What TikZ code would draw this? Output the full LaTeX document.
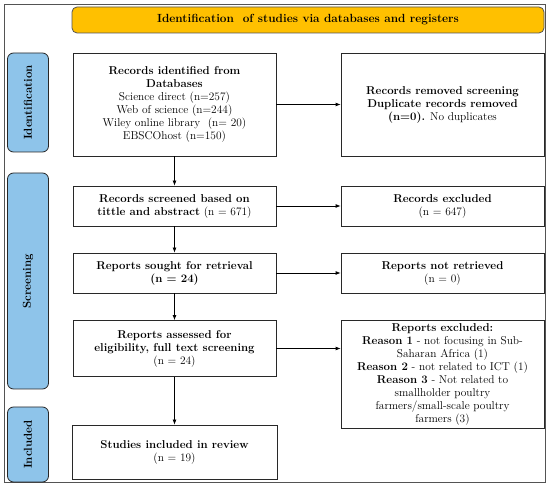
\documentclass[tikz,border=0pt]{standalone}
\usetikzlibrary{arrows.meta,positioning}
\definecolor{bannerY}{RGB}{255,192,0}
\definecolor{sideB}{RGB}{142,196,234}
\definecolor{edge}{RGB}{40,40,40}
\begin{document}
\begin{tikzpicture}[x=1pt,y=-1pt,
  box/.style={draw=edge,line width=0.8pt,fill=white,align=center,inner sep=2pt,
    font=\fontsize{11.4}{13}\selectfont},
  sidebar/.style={draw=edge,line width=0.8pt,fill=sideB,rounded corners=6pt,
    minimum width=41pt,inner sep=0pt},
  sidelabel/.style={rotate=90,font=\fontsize{11.5}{13}\selectfont\bfseries},
  arr/.style={-{Latex[length=5pt,width=4pt]},line width=0.8pt,draw=black}]
\useasboundingbox (0,0) rectangle (550,489);
% outer frame
\draw[draw=edge!80,line width=1pt] (4.5,5) rectangle (545,482.5);
% banner
\node[draw=edge!80,line width=0.8pt,fill=bannerY,rounded corners=5pt,
  minimum width=472pt,minimum height=26pt,inner sep=0pt,
  font=\fontsize{11.8}{13}\selectfont\bfseries] (banner) at (308,20)
  {Identification\ \ of studies via databases and registers};
% side bars
\node[sidebar,minimum height=99pt] (sid) at (28,102.5) {};
\node[sidelabel] (sidl) at (sid.center) {Identification};
\node[sidebar,minimum height=216pt] (sscr) at (28,281) {};
\node[sidelabel] (sscrl) at (sscr.center) {Screening};
\node[sidebar,minimum height=75pt] (sinc) at (28,444.5) {};
\node[sidelabel] (sincl) at (sinc.center) {Included};
% left boxes
\node[box,minimum width=203pt,minimum height=103pt] (b1) at (174.5,104.5)
  {\textbf{Records identified from}\\\textbf{Databases}\\Science direct (n=257)\\Web of science (n=244)\\Wiley online library\ \ (n= 20)\\EBSCOhost (n=150)};
\node[box,minimum width=203pt,minimum height=40pt] (b2) at (174.5,206)
  {\textbf{Records screened based on}\\\textbf{tittle and abstract} (n = 671)};
\node[box,minimum width=203pt,minimum height=40pt] (b3) at (174.5,273)
  {\textbf{Reports sought for retrieval}\\\textbf{(n = 24)}};
\node[box,minimum width=203pt,minimum height=56pt] (b4) at (174.5,348.5)
  {\textbf{Reports assessed for}\\\textbf{eligibility, full text screening}\\(n = 24)};
\node[box,minimum width=205pt,minimum height=54pt] (b5) at (174.5,452)
  {\textbf{Studies included in review}\\(n = 19)};
% right boxes
\node[box,minimum width=203pt,minimum height=103pt] (r1) at (442.5,104.5)
  {\textbf{Records removed screening}\\\textbf{Duplicate records removed}\\\textbf{(n=0).} No duplicates};
\node[box,minimum width=203pt,minimum height=40pt] (r2) at (442.5,206)
  {\textbf{Records excluded}\\(n = 647)};
\node[box,minimum width=203pt,minimum height=40pt] (r3) at (442.5,273)
  {\textbf{Reports not retrieved}\\(n = 0)};
\node[box,minimum width=203pt,minimum height=108pt] (r4) at (442.5,374)
  {\textbf{Reports excluded:}\\\textbf{Reason 1} - not focusing in Sub-\\Saharan Africa (1)\\\textbf{Reason 2} - not related to ICT (1)\\\textbf{Reason 3} - Not related to\\smallholder poultry\\farmers/small-scale poultry\\farmers (3)};
% arrows
\draw[arr] (b1) -- (r1);
\draw[arr] (b2) -- (r2);
\draw[arr] (b3) -- (r3);
\draw[arr] (b4) -- (b4 -| r4.west);
\draw[arr] (b1) -- (b2);
\draw[arr] (b2) -- (b3);
\draw[arr] (b3) -- (b4);
\draw[arr] (b4) -- (b5);
\end{tikzpicture}
\end{document}
